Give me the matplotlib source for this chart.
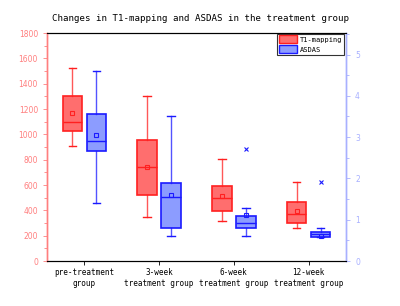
import matplotlib
matplotlib.use("Agg")
import matplotlib.pyplot as plt
from matplotlib.patches import Patch
from matplotlib.ticker import MultipleLocator

categories = ["pre-treatment\ngroup", "3-week\ntreatment group",
              "6-week\ntreatment group", "12-week\ntreatment group"]

# T1-mapping (left axis)
t1_whislo = [908, 347, 318, 263]
t1_q1 = [1029, 519, 392, 302]
t1_med = [1095, 740, 500, 371]
t1_q3 = [1303, 953, 590, 468]
t1_whishi = [1521, 1305, 805, 626]
t1_mean = [1166, 740, 516, 392]

# ASDAS (right axis)
as_whislo = [1.41, 0.60, 0.61, 0.59]
as_q1 = [2.67, 0.80, 0.80, 0.59]
as_med = [2.91, 1.55, 0.91, 0.65]
as_q3 = [3.57, 1.90, 1.09, 0.71]
as_whishi = [4.61, 3.50, 1.29, 0.79]
as_mean = [3.06, 1.61, 1.12, 0.60]
as_fliers = [[], [], [2.72], [1.91]]

mono = "DejaVu Sans Mono"
red_face, red_edge = "#FF6E6E", "#FF2020"
blue_face, blue_edge = "#8C9CFF", "#1A1AFF"
left_col, right_col = "#FF7F7F", "#A8B0FF"

fig = plt.figure(figsize=(4.0, 3.06), dpi=100)
ax = fig.add_axes([0.1175, 0.147, 0.7475, 0.745])
ax2 = ax.twinx()

pos = list(range(1, len(categories) + 1))
off = 0.16
w = 0.26

t1_stats = [dict(whislo=a, q1=b, med=c, q3=d, whishi=e, mean=m, fliers=[])
            for a, b, c, d, e, m in zip(t1_whislo, t1_q1, t1_med, t1_q3, t1_whishi, t1_mean)]
as_stats = [dict(whislo=a, q1=b, med=c, q3=d, whishi=e, mean=m, fliers=f)
            for a, b, c, d, e, m, f in zip(as_whislo, as_q1, as_med, as_q3, as_whishi, as_mean, as_fliers)]

def draw(axis, stats, positions, face, edge):
    axis.bxp(stats, positions=positions, widths=w, patch_artist=True,
             showmeans=True, showfliers=True,
             boxprops=dict(facecolor=face, edgecolor=edge, linewidth=1.2),
             medianprops=dict(color=edge, linewidth=1.0),
             whiskerprops=dict(color=edge, linewidth=1.0, alpha=0.75),
             capprops=dict(color=edge, linewidth=1.0),
             capwidths=0.1,
             meanprops=dict(marker="s", markersize=2.5, markerfacecolor="none",
                            markeredgecolor=edge, markeredgewidth=0.8),
             flierprops=dict(marker="x", markersize=2.5, markeredgecolor=edge,
                             markeredgewidth=0.8))

draw(ax, t1_stats, [p - off for p in pos], red_face, red_edge)
draw(ax2, as_stats, [p + off for p in pos], blue_face, blue_edge)

ax.set_xlim(0.5, 4.5)
ax.set_ylim(0, 1800)
ax2.set_ylim(0, 5.52)
ax.set_xticks(pos)
ax.set_xticklabels(categories, family=mono, fontsize=5.5, linespacing=1.3)
ax.yaxis.set_major_locator(MultipleLocator(200))
ax.yaxis.set_minor_locator(MultipleLocator(100))
ax2.yaxis.set_major_locator(MultipleLocator(1))
ax2.yaxis.set_minor_locator(MultipleLocator(0.5))

ax.tick_params(axis="y", colors=left_col, labelsize=5.5, length=3, width=0.6)
ax.tick_params(axis="y", which="minor", colors=left_col, length=2, width=0.6)
ax.tick_params(axis="x", length=3, width=0.6, pad=2)
ax2.tick_params(axis="y", colors=right_col, labelsize=5.5, length=3, width=0.6)
ax2.tick_params(axis="y", which="minor", colors=right_col, length=2, width=0.6)

ax.spines["left"].set_color(left_col)
ax2.spines["left"].set_color(left_col)
ax2.spines["right"].set_color(right_col)
ax.spines["right"].set_color(right_col)
for s in ["left", "right"]:
    ax.spines[s].set_linewidth(1.0)
    ax2.spines[s].set_linewidth(1.0)
for s in ["top", "bottom"]:
    ax.spines[s].set_linewidth(0.8)
    ax2.spines[s].set_linewidth(0.8)

fig.suptitle("Changes in T1-mapping and ASDAS in the treatment group",
             family=mono, fontsize=6.6, y=0.955)

handles = [Patch(facecolor=red_face, edgecolor=red_edge, label="T1-mapping"),
           Patch(facecolor=blue_face, edgecolor=blue_edge, label="ASDAS")]
leg = ax2.legend(handles=handles, loc="upper right", bbox_to_anchor=(0.995, 1.0),
                 prop=dict(family=mono, size=5), frameon=True, fancybox=False,
                 borderpad=0.25, labelspacing=0.25, handlelength=2.6,
                 handleheight=1.4, handletextpad=0.4, borderaxespad=0.1)
leg.get_frame().set_edgecolor("black")
leg.get_frame().set_linewidth(0.8)

fig.savefig("out.png", dpi=100)
